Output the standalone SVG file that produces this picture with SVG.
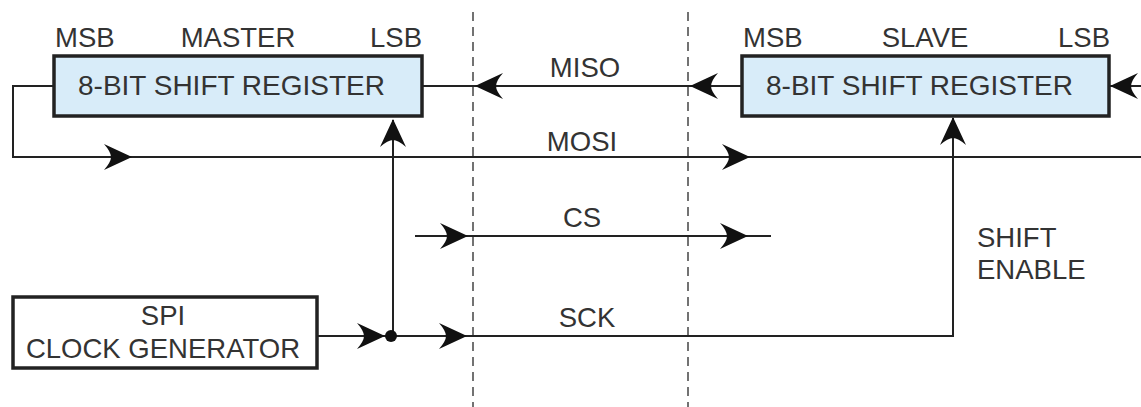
<svg xmlns="http://www.w3.org/2000/svg" xmlns:xlink="http://www.w3.org/1999/xlink" width="1141" height="407" viewBox="0 0 1141 407">
<style>
  text { font-family: "Liberation Sans", Arial, sans-serif; font-size: 27.5px; fill: #333; }
  .mid { text-anchor: middle; }
  .reg { fill: #d8ecf9; stroke: #222; stroke-width: 3.5; }
  .box { fill: #fff; stroke: #222; stroke-width: 3.5; }
  .wire { fill: none; stroke: #222; stroke-width: 2; }
  .dash { fill: none; stroke: #444; stroke-width: 1.5; stroke-dasharray: 9 6; }
  .ah { fill: #111; }
</style>
<defs>
  <path id="ah" class="ah" d="M0,0 L-28,-13 Q-21,-5 -21,0 Q-21,5 -28,13 Z"/>
</defs>
<rect width="1141" height="407" fill="#fff"/>

<g id="boundaries">
  <line class="dash" x1="473" y1="12" x2="473" y2="407"/>
  <line class="dash" x1="688" y1="12" x2="688" y2="407"/>
</g>

<g id="connectors">
  <!-- MOSI loop from master MSB -->
  <polyline class="wire" points="54,86 13,86 13,157 1141,157"/>
  <!-- MISO -->
  <line class="wire" x1="422" y1="86" x2="742" y2="86"/>
  <!-- slave LSB input from right -->
  <line class="wire" x1="1110" y1="86" x2="1141" y2="86"/>
  <!-- CS -->
  <line class="wire" x1="415" y1="236" x2="771" y2="236"/>
  <!-- SCK -->
  <polyline class="wire" points="317,336 953,336 953,118"/>
  <!-- master shift clock -->
  <line class="wire" x1="393" y1="336" x2="393" y2="120"/>
  <circle cx="391" cy="336" r="6" fill="#111"/>

  <use xlink:href="#ah" href="#ah" transform="translate(132,157)"/>
  <use xlink:href="#ah" href="#ah" transform="translate(750,157)"/>
  <use xlink:href="#ah" href="#ah" transform="translate(475,86) rotate(180)"/>
  <use xlink:href="#ah" href="#ah" transform="translate(690,86) rotate(180)"/>
  <use xlink:href="#ah" href="#ah" transform="translate(1110,86) rotate(180)"/>
  <use xlink:href="#ah" href="#ah" transform="translate(468,236)"/>
  <use xlink:href="#ah" href="#ah" transform="translate(748,236)"/>
  <use xlink:href="#ah" href="#ah" transform="translate(385,336)"/>
  <use xlink:href="#ah" href="#ah" transform="translate(467,336)"/>
  <use xlink:href="#ah" href="#ah" transform="translate(393,119) rotate(-90)"/>
  <use xlink:href="#ah" href="#ah" transform="translate(953,117) rotate(-90)"/>

  <text class="mid" x="585" y="77">MISO</text>
  <text class="mid" x="582" y="151">MOSI</text>
  <text class="mid" x="582" y="227">CS</text>
  <text class="mid" x="587" y="327">SCK</text>
  <text x="977" y="247">SHIFT</text>
  <text x="977" y="279">ENABLE</text>
</g>

<g id="master">
  <rect class="reg" x="54" y="56" width="368" height="60"/>
  <text x="78" y="95" textLength="307" lengthAdjust="spacingAndGlyphs">8-BIT SHIFT REGISTER</text>
  <text x="55" y="47">MSB</text>
  <text class="mid" x="238" y="47">MASTER</text>
  <text x="370" y="47">LSB</text>
</g>

<g id="slave">
  <rect class="reg" x="742" y="56" width="367" height="60"/>
  <text x="766" y="95" textLength="307" lengthAdjust="spacingAndGlyphs">8-BIT SHIFT REGISTER</text>
  <text x="743" y="47">MSB</text>
  <text class="mid" x="925" y="47">SLAVE</text>
  <text x="1058" y="47">LSB</text>
</g>

<g id="clockgen">
  <rect class="box" x="13" y="297" width="304" height="71"/>
  <text class="mid" x="163" y="325">SPI</text>
  <text class="mid" x="163" y="358">CLOCK GENERATOR</text>
</g>
</svg>
